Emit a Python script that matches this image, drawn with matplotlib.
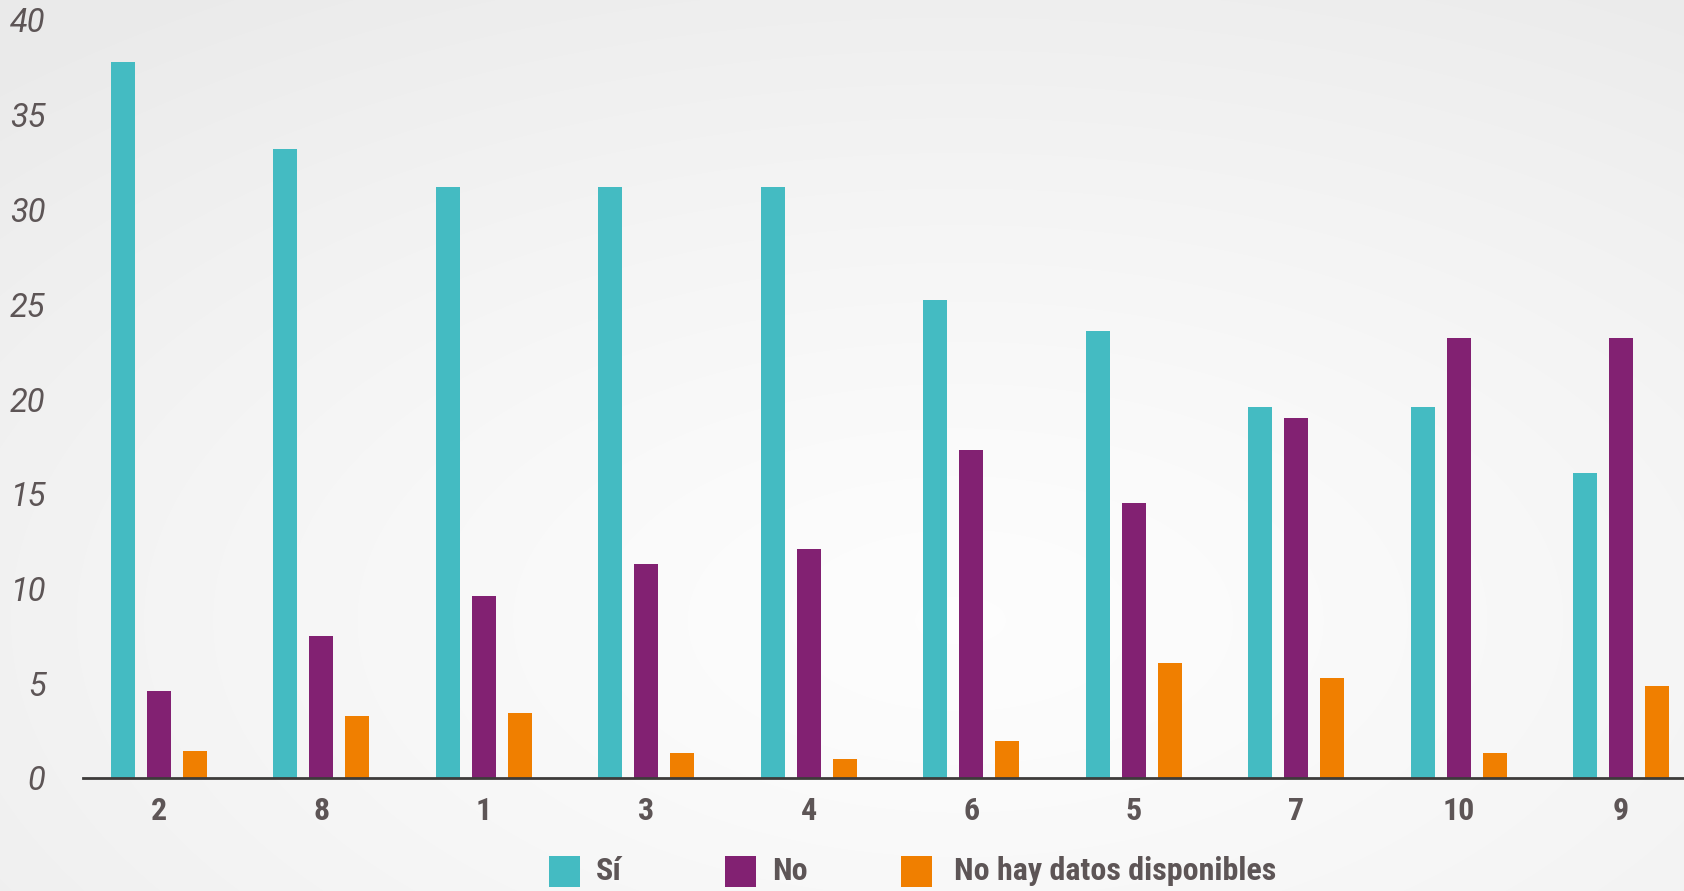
import numpy as np
import matplotlib
matplotlib.use("Agg")
import matplotlib.pyplot as plt
from matplotlib import font_manager as fm
from matplotlib.patches import Rectangle

# ---- data ----
categories = ["2", "8", "1", "3", "4", "6", "5", "7", "10", "9"]
si_values = [37.8, 33.2, 31.2, 31.2, 31.2, 25.2, 23.6, 19.6, 19.6, 16.1]
no_values = [4.6, 7.5, 9.6, 11.3, 12.1, 17.3, 14.5, 19.0, 23.2, 23.2]
nd_values = [1.42, 3.27, 3.43, 1.32, 1.0, 1.95, 6.07, 5.28, 1.32, 4.86]
series_names = ["Sí", "No", "No hay datos disponibles"]
y_ticks = [0, 5, 10, 15, 20, 25, 30, 35, 40]

colors = ["#44BBC2", "#822172", "#F07F00"]
label_color = "#5d5556"

names = {f.name for f in fm.fontManager.ttflist}
narrow = "Roboto Condensed" if "Roboto Condensed" in names else "Roboto"

W, H = 1684, 891
fig = plt.figure(figsize=(W / 100, H / 100), dpi=100)

# background radial gradient
bg = fig.add_axes([0, 0, 1, 1], zorder=-10)
yy, xx = np.mgrid[0:H, 0:W]
d = np.hypot((xx - 960) / W, (yy - 620) / H)
val = 0.993 - 0.075 * np.clip(d / 0.85, 0, 1) ** 1.3
bg.imshow(np.dstack([val, val, val]), extent=[0, 1, 0, 1], aspect="auto",
          interpolation="bilinear", origin="upper")
bg.axis("off")

# main axes
left_px, right_px = 83, 1684
zero_px, top_px = 778, 20
ax = fig.add_axes([left_px / W, 1 - zero_px / H,
                   (right_px - left_px) / W, (zero_px - top_px) / H])
ax.patch.set_alpha(0)

x = np.arange(len(categories))
unit = 162.5  # px per category
bw = 24 / unit
off = 36 / unit
for i, (vals, c) in enumerate(zip([si_values, no_values, nd_values], colors)):
    ax.bar(x + (i - 1) * off, vals, width=bw, color=c, linewidth=0, zorder=2)

ax.set_xlim((left_px - 158.6) / unit, (right_px - 158.6) / unit)
ax.set_ylim(0, 40)

for s in ["top", "right", "left"]:
    ax.spines[s].set_visible(False)
ax.spines["bottom"].set_color("#3d3b3a")
ax.spines["bottom"].set_linewidth(2.0)
ax.spines["bottom"].set_zorder(3)

ax.set_yticks(y_ticks)
ax.set_yticklabels([str(v) for v in y_ticks], fontfamily="Roboto",
                   fontstyle="italic", fontsize=23.5, color=label_color)
ax.tick_params(axis="y", length=0, pad=27)

ax.set_xticks(x)
ax.set_xticklabels(categories, fontfamily=narrow, fontweight="bold",
                   fontsize=23, color=label_color)
ax.tick_params(axis="x", length=0, pad=13)

# legend (manual, matching the reference layout)
sq = 31
sq_x = [549, 725, 901]
txt_x = [596, 772, 954]
sq_top = 856
for nm, c, sx, tx in zip(series_names, colors, sq_x, txt_x):
    fig.patches.append(Rectangle((sx / W, 1 - (sq_top + sq) / H), sq / W, sq / H,
                                 transform=fig.transFigure, color=c, linewidth=0))
    fig.text(tx / W, 1 - (sq_top + sq / 2) / H, nm, fontfamily=narrow,
             fontweight="bold", fontsize=23, color=label_color,
             ha="left", va="center")

fig.savefig("out.png", dpi=100)
